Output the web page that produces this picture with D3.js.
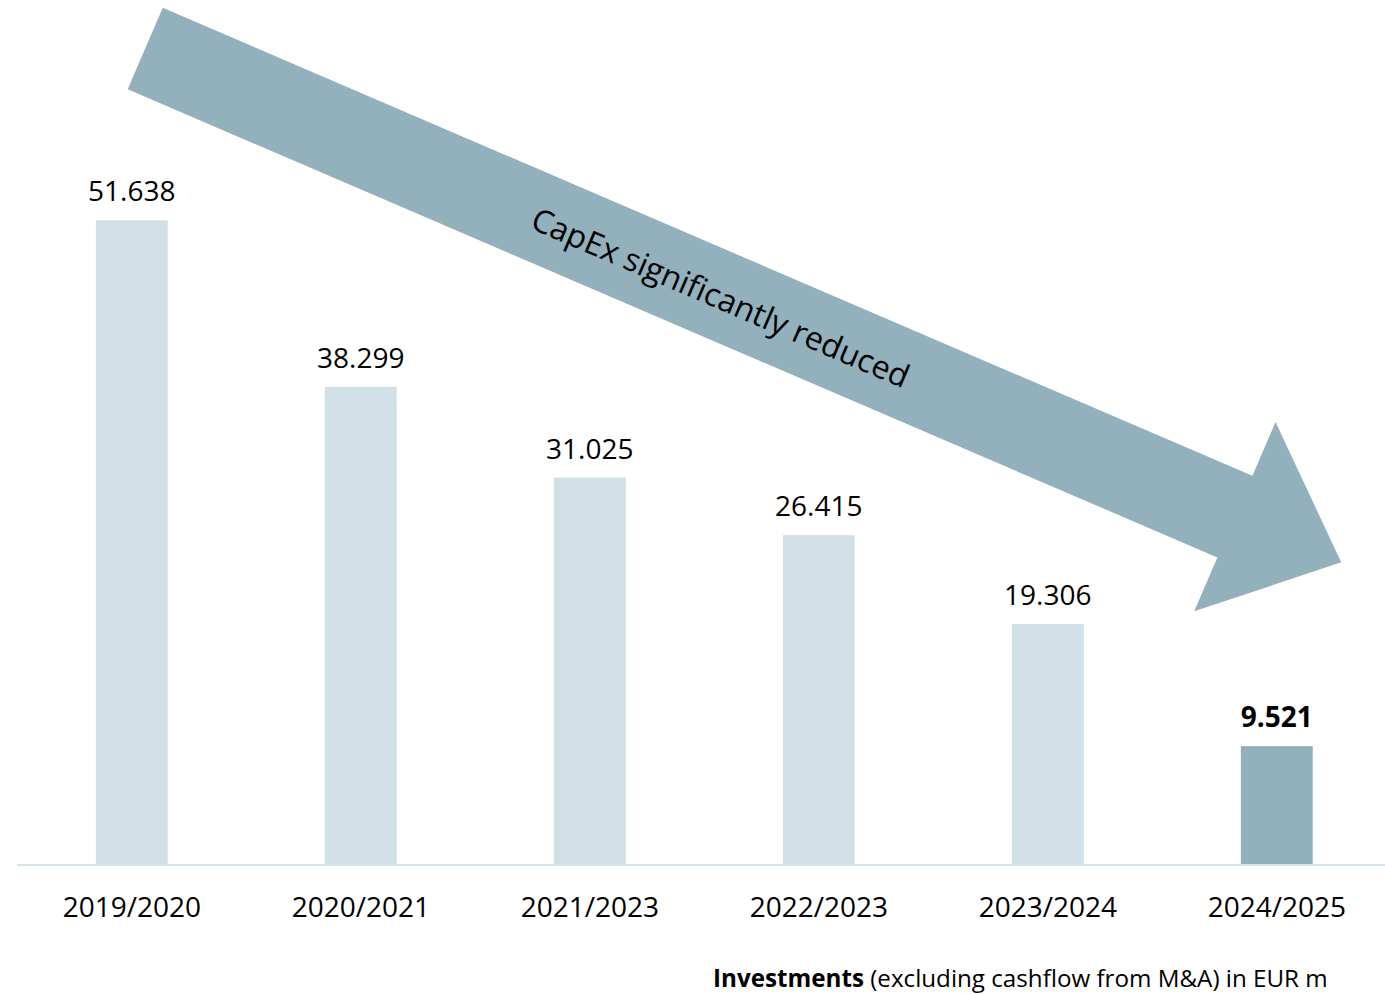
<!DOCTYPE html>
<html>
<head>
<meta charset="utf-8">
<script src="https://cdn.jsdelivr.net/npm/d3@7"></script>
<style>
  html, body { margin: 0; padding: 0; background: #ffffff; }
  svg { display: block; font-family: "Open Sans", "Noto Sans", sans-serif; }
</style>
</head>
<body>
<svg id="chart" width="1385" height="994"></svg>
<script>
// Fiscal years and investments (EUR m)
const years = ["2019/2020", "2020/2021", "2021/2023", "2022/2023", "2023/2024", "2024/2025"];
const investments = [51.638, 38.299, 31.025, 26.415, 19.306, 9.521];
const highlightYear = "2024/2025";
const arrowLabel = "CapEx significantly reduced";
const footnoteBold = "Investments";
const footnoteRest = " (excluding cashflow from M&A) in EUR m";

const W = 1385, H = 994;
const baseY = 865;
const colLight = "#d1e0e7";
const colDark = "#93b0bd";

const svg = d3.select("#chart");

const x = d3.scaleBand()
  .domain(years)
  .range([17.3, 1391.3])
  .paddingInner(0.686)
  .paddingOuter(0.343);

const y = d3.scaleLinear()
  .domain([0, 60])
  .range([baseY, baseY - 60 * 12.485]);

const fmt = d3.format(".3f");
const data = years.map((yr, i) => ({ year: yr, value: investments[i] }));

// Trend arrow, built along its own axis (tail centre, direction, lengths)
const arrow = { cx: 145.2, cy: 48.5, angle: 23.25, length: 1301.7, shaft: 88.8, headW: 206, headL: 115.7 };
(function drawArrow() {
  const a = arrow.angle * Math.PI / 180;
  const u = [Math.cos(a), Math.sin(a)];
  const n = [-Math.sin(a), Math.cos(a)];
  const pt = (s, t) => [arrow.cx + u[0] * s + n[0] * t, arrow.cy + u[1] * s + n[1] * t];
  const hb = arrow.length - arrow.headL;
  const pts = [
    pt(0, -arrow.shaft / 2),
    pt(hb, -arrow.shaft / 2),
    pt(hb, -arrow.headW / 2),
    pt(arrow.length, 0),
    pt(hb, arrow.headW / 2),
    pt(hb, arrow.shaft / 2),
    pt(0, arrow.shaft / 2)
  ];
  svg.append("path")
    .attr("d", d3.line()(pts) + "Z")
    .attr("fill", colDark);

  const mid = pt(627, 2);
  svg.append("text")
    .attr("transform", `translate(${mid[0]},${mid[1]}) rotate(${arrow.angle})`)
    .attr("text-anchor", "middle")
    .attr("dy", "0.35em")
    .attr("font-size", 32)
    .attr("fill", "#000")
    .text(arrowLabel);
})();

// Bars
svg.append("g").selectAll("rect")
  .data(data)
  .join("rect")
  .attr("x", d => x(d.year))
  .attr("y", d => y(d.value))
  .attr("width", x.bandwidth())
  .attr("height", d => y(0) - y(d.value))
  .attr("fill", d => d.year === highlightYear ? colDark : colLight);

// Value labels
svg.append("g").selectAll("text")
  .data(data)
  .join("text")
  .attr("x", d => x(d.year) + x.bandwidth() / 2)
  .attr("y", d => y(d.value) - 19)
  .attr("text-anchor", "middle")
  .attr("font-size", 28)
  .attr("font-weight", d => d.year === highlightYear ? "bold" : "normal")
  .attr("fill", "#000")
  .text(d => fmt(d.value));

// Category axis
const xAxis = svg.append("g")
  .attr("transform", `translate(0,${baseY})`)
  .call(d3.axisBottom(x).tickSize(0).tickPadding(0));
xAxis.select(".domain").remove();
xAxis.selectAll(".tick text")
  .attr("y", 52)
  .attr("dy", 0)
  .attr("font-size", 28)
  .attr("font-family", "'Open Sans', 'Noto Sans', sans-serif")
  .attr("fill", "#000");
xAxis.append("line")
  .attr("x1", 17).attr("x2", W)
  .attr("y1", 0).attr("y2", 0)
  .attr("stroke", "#d6e3ea")
  .attr("stroke-width", 2);

// Footnote
const foot = svg.append("text")
  .attr("x", 713)
  .attr("y", 987)
  .attr("font-size", 24.2)
  .attr("fill", "#000");
foot.append("tspan").attr("font-weight", "bold").text(footnoteBold);
foot.append("tspan").text(footnoteRest);
</script>
</body>
</html>
